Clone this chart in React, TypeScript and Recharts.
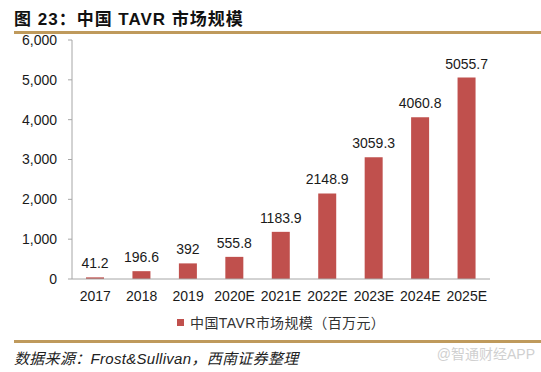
import { BarChart, Bar, XAxis, YAxis, Legend, LabelList } from 'recharts';

const years = ['2017', '2018', '2019', '2020E', '2021E', '2022E', '2023E', '2024E', '2025E'];
const marketSize = [41.2, 196.6, 392, 555.8, 1183.9, 2148.9, 3059.3, 4060.8, 5055.7];
const yTicks = [0, 1000, 2000, 3000, 4000, 5000, 6000];

const data = years.map((year, i) => ({ year, value: marketSize[i] }));

const FONT = '"Liberation Sans", Arial, "Noto Sans CJK SC", sans-serif';
const CJK = '"Liberation Sans", "Noto Sans CJK SC", sans-serif';
const GOLD = '#BF9A5C';
const RED = '#C0504D';
const AXIS = '#A6A6A6';

const tick = { fill: '#1a1a1a', fontSize: 14, fontFamily: FONT };

function LegendContent() {
  return (
    <div
      style={{
        width: 541,
        height: 26,
        display: 'flex',
        alignItems: 'center',
        paddingLeft: 177,
        boxSizing: 'border-box',
        fontFamily: CJK,
        fontSize: 14,
        color: '#333',
        letterSpacing: 0.4,
      }}
    >
      <span style={{ width: 7, height: 7, background: RED, marginRight: 6, display: 'inline-block' }} />
      <span>中国TAVR市场规模（百万元）</span>
    </div>
  );
}

export default function App() {
  return (
    <div style={{ position: 'absolute', left: 0, top: 0, width: 541, height: 372, background: '#fff' }}>
      <div
        style={{
          position: 'absolute',
          left: 14,
          top: 5,
          fontFamily: CJK,
          fontWeight: 'bold',
          fontSize: 17,
          letterSpacing: 1,
          color: '#111',
          whiteSpace: 'nowrap',
        }}
      >
        图 23：中国 TAVR 市场规模
      </div>
      <div style={{ position: 'absolute', left: 14, top: 31, width: 527, height: 3, background: GOLD }} />

      <div style={{ position: 'absolute', left: 0, top: 0 }}>
        <BarChart
          width={541}
          height={335}
          data={data}
          margin={{ top: 40, right: 51, bottom: 0, left: 0 }}
        >
          <XAxis
            dataKey="year"
            height={30}
            tick={tick}
            tickLine={false}
            tickSize={0}
            tickMargin={12}
            axisLine={{ stroke: AXIS }}
            interval={0}
          />
          <YAxis
            width={72}
            domain={[0, 6000]}
            ticks={yTicks}
            tick={tick}
            tickSize={4}
            tickMargin={11}
            tickLine={{ stroke: AXIS }}
            axisLine={{ stroke: AXIS }}
            tickFormatter={(v: number) => v.toLocaleString('en-US')}
          />
          <Legend
            verticalAlign="bottom"
            content={<LegendContent />}
            wrapperStyle={{ left: 0, width: 541, height: 26 }}
          />
          <Bar dataKey="value" fill={RED} barSize={18} isAnimationActive={false}>
            <LabelList
              dataKey="value"
              position="top"
              offset={9}
              style={{ fill: '#1a1a1a', fontSize: 14, fontFamily: FONT }}
            />
          </Bar>
        </BarChart>
      </div>

      <div style={{ position: 'absolute', left: 14, top: 340, width: 527, height: 3, background: GOLD }} />
      <div
        style={{
          position: 'absolute',
          left: 14,
          top: 347,
          fontFamily: CJK,
          fontStyle: 'italic',
          fontSize: 15,
          letterSpacing: 0.3,
          color: '#222',
          whiteSpace: 'nowrap',
        }}
      >
        数据来源：Frost&amp;Sullivan，西南证券整理
      </div>
      <div
        style={{
          position: 'absolute',
          right: 6,
          top: 343,
          fontFamily: CJK,
          fontSize: 14,
          color: '#d0d0d0',
          whiteSpace: 'nowrap',
        }}
      >
        @智通财经APP
      </div>
    </div>
  );
}
